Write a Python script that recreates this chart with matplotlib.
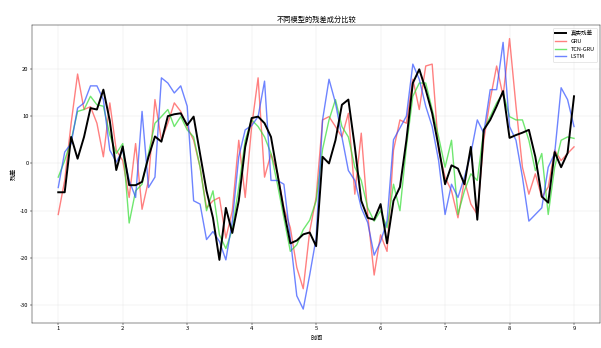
import numpy as np
import matplotlib
matplotlib.use("Agg")
import matplotlib.pyplot as plt

plt.rcParams['font.family'] = ['Noto Sans CJK SC', 'DejaVu Sans']
plt.rcParams['axes.unicode_minus'] = False

# time axis: 1.0 .. 9.0 step 0.1
t = np.round(np.arange(1.0, 9.0001, 0.1), 1)

true_resid = [-6.1, -6.1, 5.6, 1.0, 5.6, 11.7, 11.4, 15.6, 9.0, -1.4,
              3.6, -4.6, -4.6, -3.9, 1.4, 5.7, 4.6, 10.0, 10.4, 10.6,
              8.1, 9.9, 2.0, -5.8, -11.5, -20.4, -9.4, -14.7, -7.9, 3.5,
              9.6, 9.9, 8.5, 5.6, -2.2, -10.0, -16.9, -16.3, -15.0, -14.6,
              -17.5, 1.4, 0.0, 4.9, 12.4, 13.5, 3.5, -7.9, -11.5, -11.9,
              -8.6, -16.9, -7.9, -5.0, 4.9, 17.0, 19.9, 15.6, 10.6, 3.5,
              -4.4, -0.4, -1.1, -4.4, 3.5, -11.9, 7.1, 9.2, 12.1, 15.3,
              5.4, 6.0, 6.5, 7.1, 1.4, -7.0, -8.3, 2.4, -0.8, 2.2, 14.2]

model_a = [-10.8, -3.6, 8.5, 18.9, 11.4, 12.0, 8.5, 1.4, 12.8, 2.8,
           0.6, -7.2, 4.2, -9.7, -3.6, 13.5, 4.9, 8.5, 12.8, 11.0,
           7.8, 4.9, -0.8, -9.4, -7.9, -7.2, -15.8, -10.0, 4.9, -7.2,
           7.8, 18.1, -2.9, 2.0, -2.0, -9.4, -13.6, -22.0, -26.5, -14.4,
           -7.2, 9.2, 9.9, 7.8, 5.6, 10.6, -6.5, 6.4, -10.8, -23.6,
           -15.1, -18.6, 2.8, 9.2, 8.5, 17.8, 11.4, 20.6, 21.0, 2.8,
           -2.9, -5.8, -11.5, -3.6, -8.6, -10.8, 4.9, 13.5, 20.6, 14.2,
           26.4, 12.1, -0.8, -6.5, -2.2, -7.2, -5.0, 2.8, 0.6, 2.1, 3.5]

model_b = [-2.9, 0.6, 4.9, 11.0, 11.4, 14.2, 12.4, 12.1, 6.0, 2.1,
           4.2, -12.6, -5.8, -4.4, 2.1, 8.5, 9.9, 11.4, 7.8, 9.9,
           7.1, 5.6, -0.8, -10.0, -5.8, -15.1, -18.0, -14.0, -5.0, 4.9,
           9.2, 7.8, 5.6, 2.1, -4.4, -11.5, -18.6, -17.2, -14.0, -12.0,
           -7.9, 3.0, 9.2, 13.5, 7.8, 5.6, -0.8, -3.6, -9.4, -12.2,
           -10.0, -13.6, -4.4, -10.0, 3.5, 14.2, 17.0, 17.0, 11.4, 5.6,
           -0.8, 4.9, -10.8, -5.8, -2.2, -3.6, 7.1, 9.9, 12.8, 14.9,
           9.9, 9.2, 9.2, 4.9, -1.5, 2.1, -10.8, -0.8, 4.9, 5.6, 5.3]

lstm = [-5.1, 2.4, 4.2, 11.7, 12.8, 16.4, 16.4, 13.5, 2.8, 0.3,
        2.8, -3.6, -7.2, 11.0, -5.1, -2.9, 18.1, 17.0, 14.9, 16.4,
        12.1, -7.9, -8.6, -16.1, -14.4, -16.5, -20.4, -12.2, 1.4, 7.1,
        8.0, 9.9, 17.4, -3.6, -3.6, -4.4, -15.8, -28.0, -30.8, -23.6,
        -15.8, 9.2, 17.8, 12.8, 5.6, -1.5, -3.6, -9.4, -12.5, -19.4,
        -16.5, -12.2, 5.0, 7.5, 10.0, 21.0, 17.8, 12.1, 7.8, 0.6,
        -10.8, -4.4, -7.2, -2.9, 2.1, 9.2, 6.4, 15.6, 15.6, 25.6,
        7.8, 4.9, -2.9, -12.2, -10.8, -9.4, -0.8, 2.1, 16.0, 13.5, 7.8]

labels = ['真实残差', 'GRU', 'TCN-GRU', 'LSTM']
title = '不同模型的残差成分比较'
xlabel = '时间'
ylabel = '残差'

fig = plt.figure(figsize=(15.025, 8.7), dpi=40)
ax = fig.add_axes([0.054, 0.073, 0.944, 0.855])

ax.plot(t, true_resid, color='black', lw=3.5, label=labels[0], zorder=5)
ax.plot(t, model_a, color='#ff4a4a', lw=2.5, alpha=0.7, label=labels[1])
ax.plot(t, model_b, color='#33dd33', lw=2.5, alpha=0.7, label=labels[2])
ax.plot(t, lstm, color='#3050ff', lw=2.5, alpha=0.7, label=labels[3])

ax.set_title(title, fontsize=13)
ax.set_xlabel(xlabel, fontsize=11)
ax.set_ylabel(ylabel, fontsize=11)
ax.tick_params(labelsize=10.5)
ax.grid(True, alpha=0.3)
ax.legend(loc='upper right', fontsize=10)

fig.savefig('out.png', dpi=40)
